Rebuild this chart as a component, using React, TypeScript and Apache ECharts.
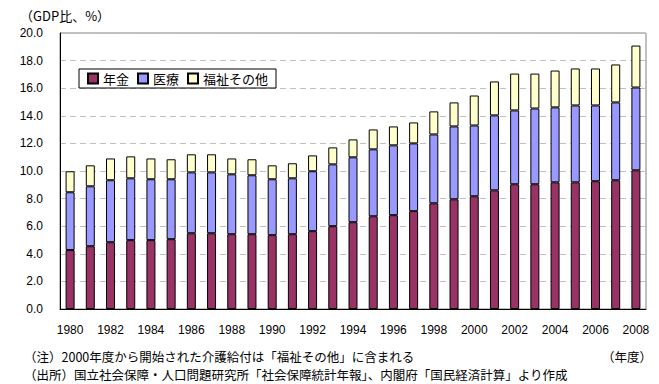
import React, { useEffect, useRef } from "react";
import * as echarts from "echarts";

const years = [
  "1980","1981","1982","1983","1984","1985","1986","1987","1988","1989",
  "1990","1991","1992","1993","1994","1995","1996","1997","1998","1999",
  "2000","2001","2002","2003","2004","2005","2006","2007","2008",
];
const pension = [
  4.27, 4.55, 4.84, 4.99, 4.99, 5.06, 5.49, 5.49, 5.42, 5.42,
  5.35, 5.42, 5.64, 6.0, 6.29, 6.72, 6.8, 7.09, 7.66, 7.95,
  8.17, 8.6, 9.04, 9.04, 9.18, 9.18, 9.26, 9.33, 10.05,
];
const medical = [
  4.19, 4.34, 4.49, 4.48, 4.41, 4.34, 4.41, 4.41, 4.34, 4.27,
  4.05, 4.05, 4.34, 4.48, 4.7, 4.85, 5.06, 4.91, 4.99, 5.28,
  5.13, 5.43, 5.35, 5.49, 5.43, 5.57, 5.49, 5.64, 6.0,
];
const welfare = [
  1.52, 1.52, 1.58, 1.59, 1.51, 1.45, 1.31, 1.31, 1.15, 1.16,
  1.01, 1.09, 1.15, 1.23, 1.3, 1.44, 1.37, 1.52, 1.67, 1.74,
  2.17, 2.46, 2.67, 2.53, 2.67, 2.68, 2.68, 2.75, 3.04,
];
const seriesNames = ["年金", "医療", "福祉その他"];
const yTicks = { min: 0, max: 20, interval: 2 };

const FONT = "'Liberation Sans', 'Noto Sans CJK JP', sans-serif";
const JP = "'Noto Sans CJK JP', sans-serif";

export default function App() {
  const ref = useRef<HTMLDivElement>(null);
  useEffect(() => {
    if (!ref.current) return;
    const chart = echarts.init(ref.current, null, { renderer: "svg" });
    const mk = (name: string, data: number[], color: string) => ({
      name,
      type: "bar",
      stack: "total",
      data,
      barWidth: 9,
      itemStyle: { color, borderColor: "#000", borderWidth: 1 },
    });
    const txt = (x: number, y: number, text: string, size = 12.5, align = "left") => ({
      type: "text", x, y,
      style: { text, fontFamily: JP, fontSize: size, fill: "#000", textVerticalAlign: "middle", textAlign: align },
    });
    chart.setOption({
      animation: false,
      backgroundColor: "#fff",
      grid: {
        left: 60, top: 33, right: 13, bottom: 75,
        show: true, borderColor: "#808080", borderWidth: 1,
      },
      legend: {
        left: 79, top: 69,
        data: seriesNames,
        backgroundColor: "#fff",
        borderColor: "#000",
        borderWidth: 1,
        borderRadius: 0,
        padding: [3, 8, 3, 8],
        itemWidth: 10, itemHeight: 10, itemGap: 8,
        icon: "rect",
        textStyle: { fontFamily: JP, fontSize: 13, color: "#000" },
      },
      xAxis: {
        type: "category",
        data: years,
        axisLine: { lineStyle: { color: "#000", width: 1 } },
        axisTick: { inside: true, length: 4, lineStyle: { color: "#000" } },
        axisLabel: { interval: 1, margin: 15, fontFamily: FONT, fontSize: 12, color: "#000" },
      },
      yAxis: {
        type: "value",
        min: yTicks.min, max: yTicks.max, interval: yTicks.interval,
        axisLine: { show: true, lineStyle: { color: "#000", width: 1 } },
        axisTick: { show: false },
        axisLabel: {
          margin: 17, fontFamily: FONT, fontSize: 12, color: "#000",
          formatter: (v: number) => v.toFixed(1),
        },
        splitLine: { lineStyle: { color: "#c0c0c0", type: [6, 4] } },
      },
      graphic: [
        txt(20, 15, "（GDP比、%）", 13),
        txt(24, 356, "（注）2000年度から開始された介護給付は「福祉その他」に含まれる"),
        txt(652, 356, "（年度）", 12.5, "right"),
        txt(24, 374, "（出所）国立社会保障・人口問題研究所「社会保障統計年報」、内閣府「国民経済計算」より作成"),
      ],
      series: [
        mk(seriesNames[0], pension, "#993366"),
        mk(seriesNames[1], medical, "#9999FF"),
        mk(seriesNames[2], welfare, "#FFFFCC"),
      ],
    });
    return () => chart.dispose();
  }, []);
  return <div ref={ref} style={{ width: 659, height: 384, position: "absolute", left: 0, top: 0 }} />;
}
